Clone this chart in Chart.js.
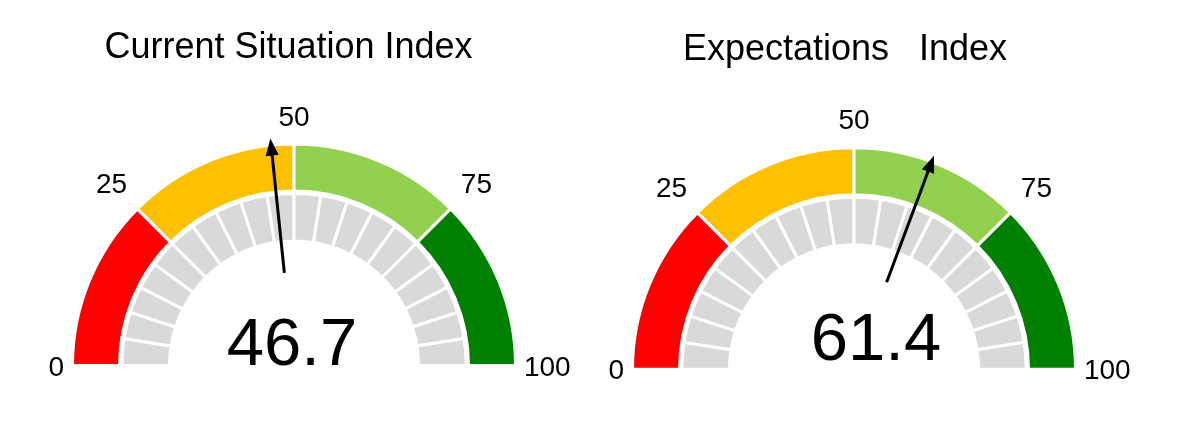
<!DOCTYPE html>
<html>
<head>
<meta charset="utf-8">
<script src="https://cdn.jsdelivr.net/npm/chart.js@4.4.1/dist/chart.umd.min.js"></script>
<style>
  html, body { margin: 0; padding: 0; background: #fff; }
  #wrap { position: relative; width: 1200px; height: 430px; overflow: hidden; }
  .gauge { position: absolute; top: 0; width: 600px; height: 430px; }
</style>
</head>
<body>
<div id="wrap">
  <div class="gauge" style="left:0"><canvas id="g1"></canvas></div>
  <div class="gauge" style="left:600px"><canvas id="g2"></canvas></div>
</div>
<script>
const titles = ['Current Situation Index', 'Expectations   Index'];
const values = [46.7, 61.4];
const tickLabels = [0, 25, 50, 75, 100];
const bandSizes = [25, 25, 25, 25];
const bandColors = ['#FF0000', '#FFC000', '#92D050', '#008000'];
const scaleSegments = [5, 5, 5, 5, 5, 5, 5, 5, 5, 5, 5, 5, 5, 5, 5, 5, 5, 5, 5, 5];

const FONT = '"Liberation Sans", Arial, Helvetica, sans-serif';
const R = 221.5; // outer arc path radius
const W = 600, H = 430;

// where each gauge sits in its own canvas
const placement = [
  { cx: 294, cy: 365.5, titleDx: -5.5, titleY: 58, valueDx: -2, valueDy: -1 },
  { cx: 254, cy: 369.3, titleDx: -9, titleY: 60, valueDx: 22, valueDy: -9 }
];

// ticks, needle, big number and title
const gaugeDecor = {
  id: 'gaugeDecor',
  afterDatasetsDraw(chart, args, opts) {
    const ctx = chart.ctx;
    const arcs = chart.getDatasetMeta(0).data;
    const first = arcs[0], last = arcs[arcs.length - 1];
    const cx = first.x, cy = first.y, r = first.outerRadius;
    const a0 = first.startAngle, a1 = last.endAngle;
    const lo = tickLabels[0], hi = tickLabels[tickLabels.length - 1];
    const angleOf = v => a0 + (v - lo) / (hi - lo) * (a1 - a0);

    ctx.save();
    ctx.fillStyle = '#000';
    ctx.textAlign = 'center';
    ctx.textBaseline = 'alphabetic';

    // tick labels
    const tickSize = 28;
    const capH = tickSize * 0.716;
    ctx.font = tickSize + 'px ' + FONT;
    tickLabels.forEach((t, i) => {
      const a = angleOf(t);
      const dx = Math.cos(a), dy = Math.sin(a);
      const txt = String(t);
      const w = ctx.measureText(txt).width;
      const end = i === 0 || i === tickLabels.length - 1;
      const rr = r * (end ? 1.038 : 1.083);
      const push = Math.abs(dx) * w / 2 + Math.abs(dy) * capH / 2;
      ctx.fillText(txt, cx + dx * (rr + push), cy + dy * (rr + push) + capH / 2);
    });

    // needle
    const a = angleOf(opts.value);
    const ux = Math.cos(a), uy = Math.sin(a);
    const tipR = r * 1.03, baseR = r * 0.42, headL = 17, headW = 6.5;
    ctx.strokeStyle = '#000';
    ctx.lineWidth = 3;
    ctx.beginPath();
    ctx.moveTo(cx + ux * baseR, cy + uy * baseR);
    ctx.lineTo(cx + ux * (tipR - headL + 2), cy + uy * (tipR - headL + 2));
    ctx.stroke();
    const bx = cx + ux * (tipR - headL), by = cy + uy * (tipR - headL);
    ctx.beginPath();
    ctx.moveTo(cx + ux * tipR, cy + uy * tipR);
    ctx.lineTo(bx - uy * headW, by + ux * headW);
    ctx.lineTo(bx + uy * headW, by - ux * headW);
    ctx.closePath();
    ctx.fill();

    // value
    ctx.font = '67px ' + FONT;
    ctx.fillText(opts.value.toFixed(1), cx + opts.valueDx, cy + opts.valueDy);

    // title
    ctx.font = '36px ' + FONT;
    ctx.fillText(opts.title, cx + opts.titleDx, opts.titleY);
    ctx.restore();
  }
};

function makeGauge(canvasId, i) {
  const p = placement[i];
  return new Chart(document.getElementById(canvasId), {
    type: 'doughnut',
    data: {
      datasets: [
        { data: bandSizes, backgroundColor: bandColors, borderColor: '#fff', borderWidth: 3, weight: 47 },
        { data: [1], backgroundColor: 'rgba(0,0,0,0)', borderWidth: 0, weight: 2.4 },
        { data: scaleSegments, backgroundColor: '#D9D9D9', borderColor: '#fff', borderWidth: 3, weight: 47.6 }
      ]
    },
    options: {
      responsive: true,
      maintainAspectRatio: false,
      animation: false,
      events: [],
      rotation: -90,
      circumference: 180,
      radius: R,
      cutout: (124.5 / R * 100).toFixed(2) + '%',
      layout: {
        padding: { left: p.cx - R, right: W - p.cx - R, top: p.cy - R, bottom: H - p.cy }
      },
      plugins: {
        legend: { display: false },
        tooltip: { enabled: false },
        gaugeDecor: {
          title: titles[i], value: values[i],
          titleDx: p.titleDx, titleY: p.titleY, valueDx: p.valueDx, valueDy: p.valueDy
        }
      }
    },
    plugins: [gaugeDecor]
  });
}

makeGauge('g1', 0);
makeGauge('g2', 1);
</script>
</body>
</html>
